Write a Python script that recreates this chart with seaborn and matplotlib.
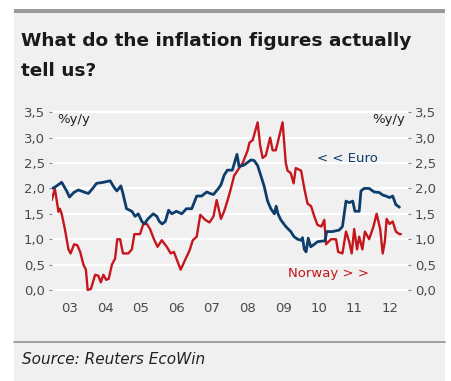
import matplotlib
matplotlib.use("Agg")
import matplotlib.pyplot as plt
import matplotlib.patches as mpatches
import matplotlib.lines as mlines
import seaborn as sns
import pandas as pd

# ---- data (decimal year, % y/y) ----
euro_t = [2003.0, 2003.08, 2003.28, 2003.42, 2003.5, 2003.62, 2003.75, 2003.94, 2004.03, 2004.15,
          2004.26, 2004.45, 2004.64, 2004.75, 2004.83, 2004.94, 2005.0, 2005.1, 2005.25, 2005.34,
          2005.43, 2005.53, 2005.6, 2005.7, 2005.85, 2005.95, 2006.02, 2006.1, 2006.19, 2006.28,
          2006.37, 2006.5, 2006.65, 2006.78, 2006.93, 2007.07, 2007.21, 2007.35, 2007.45, 2007.54,
          2007.68, 2007.75, 2007.84, 2007.93, 2008.07, 2008.2, 2008.26, 2008.4, 2008.59, 2008.68,
          2008.78, 2008.87, 2008.96, 2009.06, 2009.15, 2009.25, 2009.3, 2009.35, 2009.43, 2009.57,
          2009.71, 2009.8, 2009.9, 2010.0, 2010.04, 2010.09, 2010.14, 2010.2, 2010.27, 2010.37,
          2010.46, 2010.56, 2010.67, 2010.72, 2010.88, 2011.07, 2011.16, 2011.26, 2011.35, 2011.45,
          2011.51, 2011.63, 2011.68, 2011.77, 2011.91, 2012.05, 2012.19, 2012.29, 2012.38, 2012.48,
          2012.57, 2012.66, 2012.76]
euro_v = [2.0, 2.02, 2.12, 1.95, 1.83, 1.92, 1.97, 1.92, 1.9, 2.0,
          2.1, 2.12, 2.15, 2.02, 1.95, 2.05, 1.9, 1.6, 1.55, 1.45,
          1.5, 1.35, 1.3, 1.4, 1.5, 1.45, 1.35, 1.3, 1.35, 1.57,
          1.5, 1.55, 1.5, 1.6, 1.6, 1.85, 1.85, 1.93, 1.9, 1.88,
          2.0, 2.07, 2.26, 2.36, 2.36, 2.67, 2.43, 2.46, 2.56, 2.55,
          2.45, 2.25, 2.05, 1.75, 1.6, 1.5, 1.65, 1.5, 1.38, 1.25,
          1.15, 1.05, 1.0, 0.98, 1.03, 0.8, 0.75, 1.02, 0.85, 0.9,
          0.95, 0.96, 0.97, 1.15, 1.15, 1.18, 1.25, 1.75, 1.72, 1.75,
          1.55, 1.55, 1.95, 2.0, 2.0, 1.93, 1.92, 1.87, 1.85, 1.82,
          1.85, 1.68, 1.63]

norway_t = [2003.0, 2003.09, 2003.19, 2003.23, 2003.28, 2003.37, 2003.47, 2003.53, 2003.63, 2003.72,
            2003.8, 2003.89, 2003.96, 2004.01, 2004.1, 2004.22, 2004.31, 2004.38, 2004.45, 2004.53,
            2004.6, 2004.69, 2004.78, 2004.84, 2004.92, 2005.0, 2005.15, 2005.25, 2005.32, 2005.48,
            2005.57, 2005.67, 2005.76, 2005.87, 2005.97, 2006.09, 2006.23, 2006.34, 2006.43, 2006.51,
            2006.62, 2006.75, 2006.87, 2006.96, 2007.07, 2007.17, 2007.31, 2007.43, 2007.54, 2007.63,
            2007.75, 2007.84, 2007.93, 2008.03, 2008.12, 2008.26, 2008.36, 2008.5, 2008.55, 2008.64,
            2008.78, 2008.85, 2008.92, 2009.01, 2009.13, 2009.2, 2009.29, 2009.48, 2009.57, 2009.62,
            2009.71, 2009.79, 2009.85, 2010.0, 2010.09, 2010.18, 2010.28, 2010.37, 2010.46, 2010.57,
            2010.65, 2010.7, 2010.84, 2010.98, 2011.04, 2011.16, 2011.26, 2011.35, 2011.42, 2011.49,
            2011.57, 2011.63, 2011.72, 2011.79, 2011.91, 2012.03, 2012.12, 2012.22, 2012.29, 2012.35,
            2012.4, 2012.48, 2012.57, 2012.66, 2012.76, 2012.8]
norway_v = [1.77, 1.99, 1.54, 1.6, 1.5, 1.2, 0.8, 0.72, 0.9, 0.88,
            0.75, 0.5, 0.4, 0.0, 0.02, 0.3, 0.28, 0.15, 0.3, 0.2,
            0.22, 0.5, 0.62, 1.0, 1.0, 0.72, 0.72, 0.8, 1.1, 1.1,
            1.3, 1.3, 1.2, 1.0, 0.85, 0.98, 0.85, 0.72, 0.75, 0.6,
            0.4, 0.6, 0.78, 0.98, 1.05, 1.48, 1.38, 1.33, 1.45, 1.77,
            1.4, 1.55, 1.75, 2.0, 2.25, 2.4, 2.5, 2.75, 2.9, 2.95,
            3.3, 2.85, 2.6, 2.65, 3.0, 2.75, 2.75, 3.3, 2.5, 2.35,
            2.3, 2.1, 2.4, 2.35, 2.0, 1.7, 1.65, 1.45, 1.28, 1.25,
            1.38, 0.9, 1.0, 1.0, 0.75, 0.72, 1.15, 0.95, 0.72, 1.2,
            0.8, 1.05, 0.8, 1.15, 1.0, 1.25, 1.5, 1.2, 0.72, 0.95,
            1.4, 1.3, 1.35, 1.15, 1.1, 1.1]

year_labels = ["03", "04", "05", "06", "07", "08", "09", "10", "11", "12"]
y_ticks = [0.0, 0.5, 1.0, 1.5, 2.0, 2.5, 3.0, 3.5]

title_line1 = "What do the inflation figures actually"
title_line2 = "tell us?"
source_text = "Source: Reuters EcoWin"

NAVY = "#0e3d6b"
RED = "#c4161c"
PANEL = "#f0f0f0"
TXT = "#4a4a4a"

sns.set_style("white")
plt.rcParams["font.family"] = ["DejaVu Sans"]

W, H = 452, 381
fig = plt.figure(figsize=(W / 100, H / 100), dpi=100)
fig.patch.set_facecolor("white")

# panel background
fig.add_artist(mpatches.Rectangle((14 / W, 0), (445 - 14) / W, 1 - 12.7 / H,
                                  transform=fig.transFigure, facecolor=PANEL,
                                  edgecolor="none", zorder=-10))
# top bar
fig.add_artist(mpatches.Rectangle((14 / W, 1 - 12.7 / H), (445 - 14) / W, 3.6 / H,
                                  transform=fig.transFigure, facecolor="#9a9a9a",
                                  edgecolor="none", zorder=-9))
# separator line
fig.add_artist(mlines.Line2D([14 / W, 445 / W], [1 - 341.7 / H, 1 - 341.7 / H],
                             transform=fig.transFigure, color="#9a9a9a", lw=1.3))

fig.text(21 / W, 1 - 41 / H, title_line1,
         fontsize=13.3, fontweight="bold", color="#1a1a1a", va="center", ha="left")
fig.text(21 / W, 1 - 71 / H, title_line2,
         fontsize=13.3, fontweight="bold", color="#1a1a1a", va="center", ha="left")
fig.text(22 / W, 1 - 360 / H, source_text, fontsize=11, style="italic",
         color="#222222", va="center", ha="left")

ax = fig.add_axes([51.7 / W, 1 - 291 / H, (408 - 51.7) / W, (291 - 109.7) / H])
ax.set_facecolor(PANEL)

df_e = pd.DataFrame({"t": euro_t, "v": euro_v})
df_n = pd.DataFrame({"t": norway_t, "v": norway_v})
sns.lineplot(data=df_n, x="t", y="v", ax=ax, color=RED, lw=1.7, sort=False, zorder=3)
sns.lineplot(data=df_e, x="t", y="v", ax=ax, color=NAVY, lw=2.0, sort=False, zorder=4)

ax.set_xlim(2003, 2013)
ax.set_ylim(-0.02, 3.55)
for s in ax.spines.values():
    s.set_visible(False)

ax.set_yticks(y_ticks)
ax.set_yticklabels([f"{v:.1f}".replace(".", ",") for v in y_ticks])
ax.yaxis.grid(True, color="white", lw=1.6)
ax.xaxis.grid(False)
ax.set_axisbelow(True)
ax.tick_params(axis="y", left=True, right=True, labelleft=True, labelright=True,
               length=2, width=0.8, color="#888888", labelsize=9.5, labelcolor=TXT, pad=3)

ax.set_xticks([2003.5 + i for i in range(10)])
ax.set_xticklabels(year_labels)
ax.set_xticks(list(range(2003, 2014)), minor=True)
ax.tick_params(axis="x", which="major", length=0, labelsize=9.5, labelcolor=TXT, pad=8)
ax.tick_params(axis="x", which="minor", length=3, width=0.8, color="#888888", direction="out")
ax.set_xlabel("")
ax.set_ylabel("")

ax.text(57 / W, 1 - 120 / H, "%y/y", transform=fig.transFigure, fontsize=9.5,
        color="#222222", ha="left", va="center")
ax.text(405 / W, 1 - 120 / H, "%y/y", transform=fig.transFigure, fontsize=9.5,
        color="#222222", ha="right", va="center")
ax.text(317 / W, 1 - 159 / H, "< < Euro", transform=fig.transFigure, fontsize=9.5,
        color=NAVY, ha="left", va="center")
ax.text(288 / W, 1 - 273 / H, "Norway > >", transform=fig.transFigure, fontsize=9.5,
        color=RED, ha="left", va="center")

fig.savefig("out.png", dpi=100, facecolor="white")
